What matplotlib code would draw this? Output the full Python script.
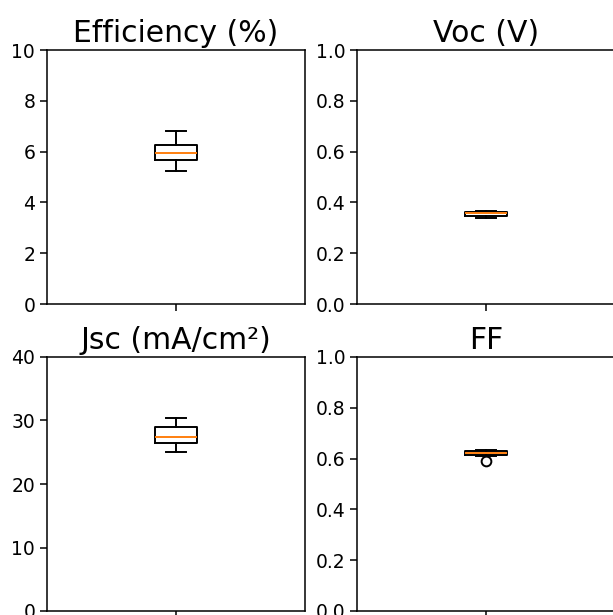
import matplotlib
matplotlib.use("Agg")
import matplotlib.pyplot as plt

# box stats: [low whisker, Q1, median, Q3, high whisker]
titles = ["Efficiency (%)", "Voc (V)", "Jsc (mA/cm²)", "FF"]
eff = [5.25, 5.68, 5.95, 6.25, 6.8]
voc = [0.338, 0.348, 0.357, 0.362, 0.365]
jsc = [25.1, 26.5, 27.4, 28.9, 30.4]
ff = [0.612, 0.615, 0.621, 0.630, 0.633]
ff_outliers = [0.590]
eff_outliers = []
voc_outliers = []
jsc_outliers = []
ylims = [(0, 10), (0, 1.0), (0, 40), (0, 1.0)]
yticks = [[0, 2, 4, 6, 8, 10],
          [0.0, 0.2, 0.4, 0.6, 0.8, 1.0],
          [0, 10, 20, 30, 40],
          [0.0, 0.2, 0.4, 0.6, 0.8, 1.0]]


def make_stats(s, fl):
    return [{"whislo": s[0], "q1": s[1], "med": s[2], "q3": s[3],
             "whishi": s[4], "fliers": fl}]


stats = [make_stats(eff, eff_outliers), make_stats(voc, voc_outliers),
         make_stats(jsc, jsc_outliers), make_stats(ff, ff_outliers)]

fig = plt.figure(figsize=(6.13, 6.15), dpi=100)
W, H = 613, 615
lefts = [47, 357]
tops = [304, 611]
aw, ah = 258, 254

for i in range(4):
    r, c = divmod(i, 2)
    ax = fig.add_axes([lefts[c] / W, 1 - tops[r] / H, aw / W, ah / H])
    ax.bxp(stats[i], positions=[1], widths=0.16,
           flierprops=dict(marker="o", markersize=7, markerfacecolor="none",
                           markeredgecolor="black", markeredgewidth=1.4),
           medianprops=dict(color="#ff7f0e", linewidth=1.4),
           boxprops=dict(linewidth=1.4), whiskerprops=dict(linewidth=1.4),
           capprops=dict(linewidth=1.4))
    ax.set_xlim(0.5, 1.5)
    ax.set_ylim(*ylims[i])
    ax.set_yticks(yticks[i])
    if i % 2 == 1:
        ax.set_yticklabels(["%.1f" % t for t in yticks[i]])
    ax.set_xticks([1])
    ax.set_xticklabels([""])
    ax.tick_params(labelsize=13.5, length=5, width=1.1)
    for sp in ax.spines.values():
        sp.set_linewidth(1.1)
    ax.set_title(titles[i], fontsize=21.5, pad=6)

fig.savefig("out.png", dpi=100)
